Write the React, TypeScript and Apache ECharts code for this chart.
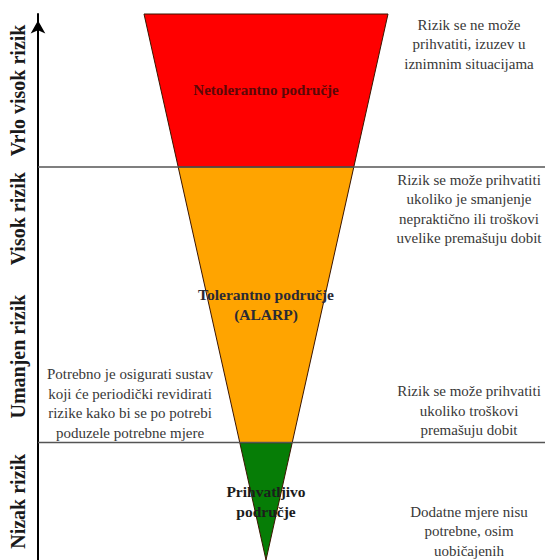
import React, { useEffect, useRef } from "react";
import * as echarts from "echarts";

// ---- data ----
const riskLevels = ["Nizak rizik", "Umanjen rizik", "Visok rizik", "Vrlo visok rizik"];
const riskBounds = [0, 21.5, 53, 72, 100];

const zoneNames = ["Prihvatljivo\npodručje", "Tolerantno područje\n(ALARP)", "Netolerantno područje"];
const zoneBounds = [0, 21.5, 72, 100];

const separatorLevels = [21.5, 72];

const notesRight = [
  "Rizik se ne može\nprihvatiti, izuzev u\niznimnim situacijama",
  "Rizik se može prihvatiti\nukoliko je smanjenje\nnepraktično ili troškovi\nuvelike premašuju dobit",
  "Rizik se može prihvatiti\nukoliko troškovi\npremašuju dobit",
  "Dodatne mjere nisu\npotrebne, osim\nuobičajenih",
];
const notesRightLevel = [94.5, 64.3, 27.3, 5.3];
const notesLeft = ["Potrebno je osigurati sustav\nkoji će periodički revidirati\nrizike kako bi se po potrebi\npoduzele potrebne mjere"];
const notesLeftLevel = [28.7];

// ---- styles / layout ----
const W = 545;
const H = 560;
const GRID_LEFT = 38;
const GRID_TOP = 14;
const CENTER_PX = 266;
const PX_PER_UNIT = 2.44;
const TOP_HALF_WIDTH = 50; // half width of the triangle at level 100
const X_MIN = -(CENTER_PX - GRID_LEFT) / PX_PER_UNIT;
const X_MAX = (W - CENTER_PX) / PX_PER_UNIT;
const NOTE_RIGHT_X = (469 - CENTER_PX) / PX_PER_UNIT;
const NOTE_LEFT_X = (130 - CENTER_PX) / PX_PER_UNIT;
const AXIS_LABEL_PX = 18;

const zoneColors = ["#067d06", "#ffa400", "#ff0000"];
const zoneLabelColors = ["#1c1c1c", "#2a2a35", "#5a0808"];
const zoneLabelSizes = [15.5, 15.5, 15];
const SERIF = "'Liberation Serif', 'Times New Roman', serif";

const halfW = (r: number) => (TOP_HALF_WIDTH * r) / 100;

export default function App() {
  const ref = useRef<HTMLDivElement>(null);
  useEffect(() => {
    if (!ref.current) return;
    const chart = echarts.init(ref.current, undefined, { renderer: "svg" });

    const zoneData = zoneNames.map((_, i) => [zoneBounds[i], zoneBounds[i + 1], i]);
    const levelData = riskLevels.map((_, i) => [riskBounds[i], riskBounds[i + 1], i]);
    const sepData = separatorLevels.map((v) => [v]);
    const noteData = [
      ...notesRight.map((_, i) => [NOTE_RIGHT_X, notesRightLevel[i], 0, i]),
      ...notesLeft.map((_, i) => [NOTE_LEFT_X, notesLeftLevel[i], 1, i]),
    ];

    chart.setOption({
      animation: false,
      backgroundColor: "#ffffff",
      grid: { left: GRID_LEFT, right: 0, top: GRID_TOP, bottom: 0 },
      xAxis: { type: "value", min: X_MIN, max: X_MAX, show: false },
      yAxis: {
        type: "value",
        min: 0,
        max: 100,
        axisLine: {
          show: true,
          onZero: false,
          lineStyle: { color: "#000", width: 2 },
          symbol: ["none", "arrow"],
          symbolSize: [11, 13],
          symbolOffset: [0, -6.5],
        },
        axisTick: { show: false },
        axisLabel: { show: false },
        splitLine: { show: false },
      },
      series: [
        {
          type: "custom",
          silent: true,
          z: 2,
          data: zoneData,
          renderItem: (params: any, api: any) => {
            const lo = api.value(0);
            const hi = api.value(1);
            const i = api.value(2);
            const p1 = api.coord([-halfW(hi), hi]);
            const p2 = api.coord([halfW(hi), hi]);
            const p3 = api.coord([halfW(lo), lo]);
            const p4 = api.coord([-halfW(lo), lo]);
            const c = api.coord([0, (lo + hi) / 2]);
            return {
              type: "group",
              children: [
                {
                  type: "polygon",
                  shape: { points: [p1, p2, p3, p4] },
                  style: { fill: zoneColors[i], stroke: "#3a1500", lineWidth: 1 },
                },
                {
                  type: "text",
                  x: c[0],
                  y: c[1],
                  z2: 10,
                  style: {
                    text: zoneNames[i],
                    fill: zoneLabelColors[i],
                    fontFamily: SERIF,
                    fontWeight: "bold",
                    fontSize: zoneLabelSizes[i],
                    lineHeight: 20,
                    align: "center",
                    verticalAlign: "middle",
                  },
                },
              ],
            };
          },
        },
        {
          type: "custom",
          silent: true,
          z: 3,
          data: sepData,
          renderItem: (params: any, api: any) => {
            const v = api.value(0);
            const a = api.coord([X_MIN, v]);
            const b = api.coord([X_MAX, v]);
            return {
              type: "line",
              shape: { x1: a[0], y1: a[1], x2: b[0], y2: b[1] },
              style: { stroke: "#555", lineWidth: 1.5 },
            };
          },
        },
        {
          type: "custom",
          silent: true,
          z: 4,
          data: levelData,
          renderItem: (params: any, api: any) => {
            const lo = api.value(0);
            const hi = api.value(1);
            const i = api.value(2);
            const c = api.coord([X_MIN, (lo + hi) / 2]);
            return {
              type: "text",
              x: AXIS_LABEL_PX,
              y: c[1],
              rotation: Math.PI / 2,
              style: {
                text: riskLevels[i],
                fill: "#1a1a1a",
                fontFamily: SERIF,
                fontWeight: "bold",
                fontSize: 20,
                align: "center",
                verticalAlign: "middle",
              },
            };
          },
        },
        {
          type: "custom",
          silent: true,
          z: 4,
          data: noteData,
          renderItem: (params: any, api: any) => {
            const x = api.value(0);
            const y = api.value(1);
            const side = api.value(2);
            const i = api.value(3);
            const c = api.coord([x, y]);
            return {
              type: "text",
              x: c[0],
              y: c[1],
              style: {
                text: side === 0 ? notesRight[i] : notesLeft[i],
                fill: "#383838",
                fontFamily: SERIF,
                fontSize: 15,
                lineHeight: 19.5,
                align: "center",
                verticalAlign: "middle",
              },
            };
          },
        },
      ],
    });
    return () => chart.dispose();
  }, []);
  return (
    <div
      ref={ref}
      style={{ position: "fixed", left: 0, top: 0, width: W, height: H, background: "#fff" }}
    />
  );
}
